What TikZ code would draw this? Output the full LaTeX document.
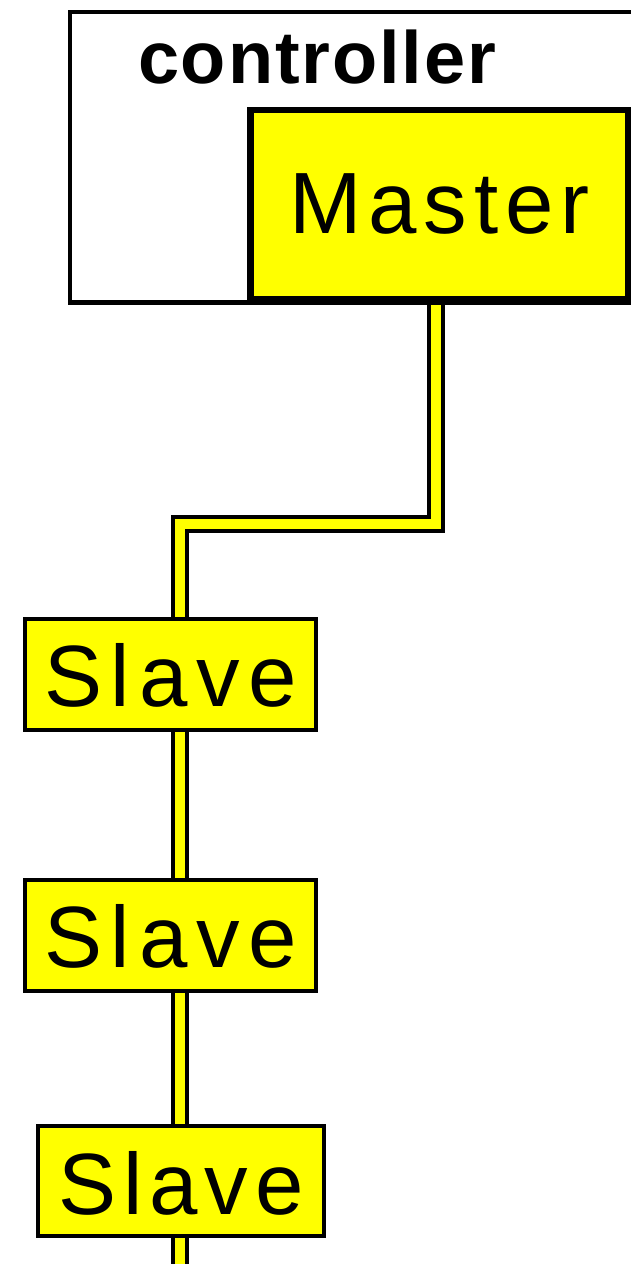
\documentclass[tikz,border=0pt]{standalone}
\usepackage{fontspec}
\setmainfont{Liberation Sans}
\usetikzlibrary{backgrounds}
\definecolor{unityellow}{RGB}{255,255,0}
\begin{document}
\begin{tikzpicture}[x=1pt,y=-1pt,
    unitbox/.style={draw, line width=4pt, fill=unityellow, inner sep=0pt,
      text height=63pt, text depth=0pt,
      font=\fontsize{87}{90}\selectfont\addfontfeature{LetterSpace=10}},
    bus/.style={line width=4pt, double=unityellow, double distance=10pt}]
  \useasboundingbox (0,0) rectangle (631,1264);
  \clip (0,0) rectangle (631,1264);

  \node (ctrl) [draw, line width=4.5pt, minimum width=640pt, minimum height=290.5pt,
    anchor=north west] at (67.5,9.5) {};
  \node (ctrllabel) [anchor=base, inner sep=0pt,
    font=\fontsize{74}{80}\selectfont\bfseries\addfontfeature{LetterSpace=2.5}] at (317,83) {controller};
  \node (master) [unitbox, line width=6.5pt, minimum width=378pt, minimum height=189pt,
    text height=57pt, font=\fontsize{87}{90}\selectfont\addfontfeature{LetterSpace=8}] at (439.5,204.5) {Master};

  \node (s1) [unitbox, minimum width=291pt, minimum height=111pt] at (170.5,674.5) {Slave};
  \node (s2) [unitbox, minimum width=291pt, minimum height=111pt] at (170.5,935.5) {Slave};
  \node (s3) [unitbox, minimum width=286pt, minimum height=110pt, text height=66pt,
    font=\fontsize{87}{90}\selectfont\addfontfeature{LetterSpace=8}] at (181,1181) {Slave};

  \coordinate (tap) at (435.5,299);
  \coordinate (bendA) at (435.5,523.5);
  \coordinate (bendB) at (179.5,523.5);
  \coordinate (busend) at (179.5,1270);

  \begin{scope}[on background layer]
    \draw[bus] (tap) -- (bendA) -- (bendB) -- (bendB |- s1.north);
    \draw[bus] (s1.south -| bendB) -- (s2.north -| bendB);
    \draw[bus] (s2.south -| bendB) -- (s3.north -| bendB);
    \draw[bus] (s3.south -| bendB) -- (busend);
  \end{scope}
\end{tikzpicture}
\end{document}
